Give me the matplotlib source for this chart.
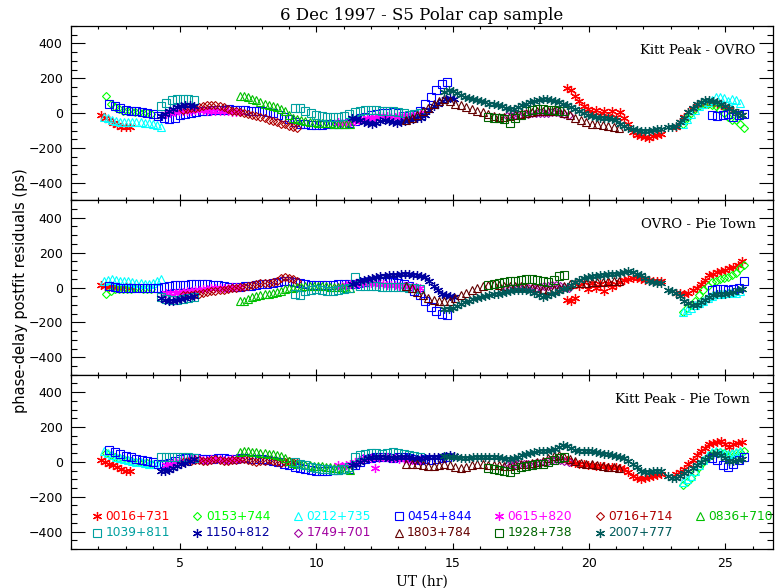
import numpy as np
import matplotlib
matplotlib.use("Agg")
import matplotlib.pyplot as plt

# sources, in legend order
names = ["0016+731", "0153+744", "0212+735", "0454+844", "0615+820", "0716+714", "0836+710",
         "1039+811", "1150+812", "1749+701", "1803+784", "1928+738", "2007+777"]
colors = ["#ff0000", "#00ff00", "#00ffff", "#0000ff", "#ff00ff", "#b00000", "#00c000",
          "#00a0a0", "#0000a0", "#a000a0", "#640000", "#006400", "#005a5a"]
markers = ["ast", "D", "^", "s"] * 3 + ["ast"]

baselines = ["Kitt Peak - OVRO", "OVRO - Pie Town", "Kitt Peak - Pie Town"]

# each scan block: (start UT, spacing in hr, KP-OVRO, OVRO-PT, KP-PT) residuals in ps
s0016 = [
    (2.1, 0.15,
     [-10, -25, -40, -55, -70, -78, -80, -80],
     [15, 10, 5, 10, 5, 0, 5, 5],
     [10, 0, -10, -20, -30, -40, -50, -55]),
    (19.2, 0.15,
     [145, 130, 100, 70, 40, 25, 0, 20, -10, 15, -15, 10, -20, 5, -25, -60, -110, -125, -130, -135, -140, -130, -125, -120],
     [-70, -80, -60, 10, 30, -10, 25, 0, 20, -20, 25, 5, 20, 30, 45, 50, 55, 55, 50, 45, 45, 40, 40, 40],
     [10, 0, -5, -10, -15, -20, -20, -25, -25, -25, -30, -30, -30, -35, -40, -60, -80, -95, -100, -95, -85, -80, -75, -70]),
    (23.2, 0.15,
     [-80, -50, -20, 5, 25, 40, 50, 55, 60, 60, 55, 45, 35, 25, 10, 0, -10],
     [-30, -30, -35, -30, -15, 0, 20, 45, 70, 80, 90, 95, 100, 110, 120, 130, 150],
     [-70, -60, -40, -15, 10, 40, 60, 80, 100, 110, 115, 120, 100, 85, 100, 110, 115]),
]
s0153 = [
    (2.3, 0.15,
     [100, 55, 35, 25, 15, 10, 10, 5, 5, 0, 0, -5],
     [-35, -20, -10, -10, -10, -10, -10, -5, -5, -10, -10, -10],
     [50, 40, 30, 20, 15, 10, 5, 0, 0, -5, -5, -10]),
    (23.45, 0.15,
     [-60, -30, 0, 25, 40, 50, 50, 45, 40, 20, 0, -20, -40, -40, -60, -85],
     [-140, -120, -100, -75, -45, -15, 10, 30, 40, 50, 55, 60, 70, 85, 110, 130],
     [-130, -115, -90, -60, -30, 0, 30, 50, 55, 55, 50, 40, 45, 50, 55, 60]),
]
s0212 = [
    (2.2, 0.15,
     [-20, -30, -40, -45, -50, -50, -50, -50, -50, -50, -55, -55, -60, -70, -80],
     [40, 45, 50, 45, 40, 40, 35, 30, 25, 25, 20, 20, 25, 40, 50],
     [60, 50, 40, 30, 20, 15, 10, 5, 0, 0, -5, -10, -10, -15, -15]),
    (23.45, 0.15,
     [-60, -35, -5, 20, 40, 55, 65, 75, 90, 95, 85, 70, 80, 75, 60],
     [-140, -130, -115, -100, -90, -75, -60, -50, -40, -35, -30, -30, -25, -30, -20],
     [-115, -100, -80, -50, -20, 10, 40, 55, 60, 55, 50, 45, 50, 55, 60]),
]
s0454 = [
    (2.4, 0.2,
     [50, 40, 30, 20, 15, 10, 5, 0, -5, -15, -30, -35, -25, -10, -5, 0, 5, 10, 15, 20,
      20, 20, 25, 20, 20, 20, 15, 15, 10, 5, 0, -10, -20, -35, -50, -60, -65, -70, -70, -70,
      -65, -65, -60, -60, -55, -45, -30, -20, -10, -5, 0, 0, 5, 0, -15, -30, -10, 15, 50, 90,
      130, 165, 180],
     [10, 5, 0, 0, -5, -5, -5, -5, -5, -5, 5, 10, 15, 15, 15, 20, 20, 20, 20, 15,
      15, 10, 5, 5, 5, 10, 10, 15, 20, 20, 25, 30, 35, 35, 30, 25, 20, 15, 15, 15,
      15, 15, 20, 20, 20, 20, 25, 30, 35, 35, 35, 30, 30, 25, 20, 10, -20, -45, -80, -110,
      -135, -150, -160],
     [70, 55, 45, 35, 25, 15, 10, 5, 0, -10, -15, -5, 5, 15, 20, 20, 20, 15, 15, 15,
      20, 20, 15, 15, 20, 20, 15, 15, 15, 10, 5, 0, -10, -20, -30, -35, -40, -45, -50, -50,
      -50, -45, -45, -40, -40, -20, 0, 15, 20, 25, 30, 25, 20, 25, 30, 20, 15, 10, 15, 10,
      15, 20, 25]),
    (24.5, 0.2,
     [-10, -15, -10, -5, -20, -10, -5],
     [-15, -10, -10, -15, -10, 0, 40],
     [20, 10, -20, -30, -10, 10, 25]),
]
s0615 = [
    (4.5, 0.15,
     [-5, 0, 5, 10, 10, 15, 15, 20, 20, 20, 15, 15, 15, 10, 10, 10, 5, 5, 5],
     [-30, -30, -30, -25, -25, -20, -20, -15, -15, -10, -10, -5, -5, 0, 0, 0, 5, 5, 5],
     [-20, -10, 0, 5, 10, 10, 15, 15, 15, 10, 10, 15, 15, 15, 10, 10, 15, 15, 15]),
    (10.8, 0.15,
     [-50, -55, -55, -50, -45, -40, -35, -30, -25, -20, -15, -15, -15, -20, -20, -15, -15, -10, -10, -5, 0],
     [5, 10, 15, 20, 20, 25, 25, 25, 25, 20, 20, 20, 15, 15, 15, 10, 10, 10, 5, 5, 0],
     [-20, -25, -20, -10, 0, 10, 20, 20, 20, -35, 20, 25, 25, 20, 20, 15, 15, 10, 10, 10, 10]),
]
s0716 = [
    (5.1, 0.15,
     [20, 25, 30, 30, 35, 40, 45, 45, 45, 40, 35, 25, 15, 10, 5, 0, -5, -10, -15, -20,
      -30, -40, -45, -50, -60, -65, -75, -80, -85],
     [-45, -45, -45, -40, -35, -30, -25, -20, -20, -15, -15, -10, -5, 0, 5, 5, 10, 15, 20, 25,
      25, 25, 30, 40, 55, 60, 55, 50, 35],
     [0, 5, 5, 10, 10, 5, 5, 10, 15, 10, 5, 5, 10, 10, 15, 15, 10, 5, 0, 5,
      5, 10, 5, 0, -5, 0, 5, 0, -5]),
]
s0836 = [
    (7.2, 0.15,
     [100, 100, 90, 80, 75, 65, 55, 45, 40, 35, 25, 10, -10, -25, -35, -40, -45, -50, -50, -55,
      -55, -55, -55, -60, -60, -60, -65, -65],
     [-80, -75, -65, -55, -50, -45, -40, -35, -30, -25, -20, -10, -5, 0, 5, 5, 10, 10, 10, 10,
      10, 10, 5, 5, 5, 5, 0, 0],
     [55, 60, 60, 55, 55, 50, 50, 45, 45, 40, 35, 20, 5, -5, -10, -15, -20, -20, -25, -25,
      -25, -30, -30, -35, -35, -40, -40, -45]),
]
s1039 = [
    (4.3, 0.2,
     [40, 60, 75, 80, 80, 80, 75],
     [-55, -65, -70, -70, -65, -60, -55],
     [30, 25, 25, 30, 30, 25, 20]),
    (9.2, 0.2,
     [30, 30, 10, 0, -10, -15, -20, -20, -20, -15, -5, 5, 15, 20, 20, 20, 15, 10, 10, 5, 0, -10, -5, 0],
     [-40, -45, -20, -15, -10, -15, -20, -20, -15, -10, 0, 60, 10, 10, 10, 10, 5, 5, 5, 5, 5, 0, -5, -10],
     [0, -10, -20, -30, -35, -40, -40, -45, -45, -40, -30, 30, 40, 45, 50, 50, 45, 50, 55, 50, 45, 40, 35, 30]),
]
s1150 = [
    (4.3, 0.15,
     [-15, -5, 10, 25, 35, 40, 45, 45, 40],
     [-60, -70, -75, -75, -70, -65, -60, -55, -50],
     [-55, -55, -45, -35, -25, -15, -5, 5, 15]),
    (11.3, 0.15,
     [-30, -35, -40, -50, -55, -60, -55, -45, -40, -45, -50, -55, -50, -45, -40, -35, -30, -25,
      -10, 20, 40, 55, 70, 80, 85, 80],
     [20, 25, 35, 45, 50, 55, 60, 65, 65, 70, 70, 70, 75, 75, 75, 70, 70, 65,
      60, 35, 10, -15, -35, -45, -50, -55],
     [-20, -10, 0, 10, 20, 25, 30, 30, 25, 20, 20, 25, 30, 30, 25, 20, 15, 20,
      20, 25, 25, 30, 30, 35, 40, 35]),
]
s1749 = [
    (17.0, 0.15,
     [-15, -15, -10, -10, -5, -5, 0, 0, 0, 0, 0, 5, 5, 0, -5, -10],
     [0, 0, 5, 5, 5, 0, 0, 0, 5, 10, 10, 15, 15, 10, 5, 0],
     [-20, -20, -15, -15, -15, -10, -10, -5, -5, 0, 5, 10, 15, 10, 5, 0]),
]
s1803 = [
    (13.3, 0.2,
     [-40, -30, -10, 10, 30, 50, 70, 80, 70, 55, 45, 35, 25, 15, 5, -5, -15, -20, -20, -15,
      -10, -5, 0, 5, 10, 15, 15, 15, 10, 0, -10, -25, -40, -50, -60, -65, -70, -75, -80, -85],
     [10, -5, -25, -45, -60, -70, -75, -80, -75, -60, -45, -30, -15, 0, 10, 15, 20, 15, 10, 10,
      10, 10, 5, 0, -5, -10, -15, -10, 0, 10, 20, 25, 25, 25, 30, 30, 30, 35, 35, 40],
     [-10, -15, -15, -20, -25, -25, -20, -15, -20, -30, -35, -30, -20, -15, -15, -20, -20, -20, -25, -25,
      -20, -15, -10, -5, 0, 5, 20, 35, 40, 30, 15, 5, -5, -10, -15, -20, -25, -30, -30, -35]),
]
s1928 = [
    (16.3, 0.2,
     [-20, -25, -30, -35, -55, -30, -10, 10, 20, 25, 25, 20, 20, 15, 10],
     [15, 20, 25, 30, 35, 40, 45, 50, 50, 45, 35, 30, 45, 65, 70],
     [-35, -40, -45, -55, -60, -40, -30, -25, -20, -15, -10, 0, 10, 20, 25]),
]
s2007 = [
    (14.7, 0.15,
     [120, 135, 125, 115, 105, 95, 85, 80, 75, 70, 65, 55, 50, 45, 40, 30, 25, 25, 35, 45,
      55, 65, 70, 75, 80, 80, 75, 70, 65, 55, 45, 35, 25, 10, 0, -10, -15, -20, -25, -30,
      -30, -35, -40, -60, -75, -85, -90, -95, -100, -100, -100, -95, -90, -90],
     [-125, -125, -115, -105, -95, -85, -75, -65, -60, -55, -50, -45, -40, -35, -30, -25, -20, -15, -15, -15,
      -15, -20, -30, -45, -55, -50, -40, -30, -20, -10, 0, 15, 30, 45, 55, 60, 65, 65, 70, 70,
      75, 75, 80, 85, 90, 95, 90, 80, 70, 55, 40, 30, 25, 25],
     [35, 30, 25, 25, 20, 20, 20, 25, 25, 25, 30, 30, 30, 25, 20, 15, 15, 20, 30, 40,
      45, 50, 55, 60, 60, 65, 70, 75, 85, 95, 90, 80, 70, 65, 60, 60, 60, 55, 50, 45,
      45, 40, 35, 30, 20, 5, -10, -30, -50, -60, -60, -55, -55, -55]),
    (22.9, 0.15,
     [-80, -80, -75, -50, -25, 5, 30, 50, 65, 75, 75, 70, 65, 55, 40, 30, 15, 0, -10],
     [-15, -20, -30, -50, -75, -90, -100, -100, -85, -70, -55, -45, -40, -35, -35, -30, -25, -15, -10],
     [-80, -90, -90, -80, -65, -50, -35, -20, 0, 15, 30, 45, 50, 40, 20, 5, 5, 10, 15]),
]
blocks = [s0016, s0153, s0212, s0454, s0615, s0716, s0836,
          s1039, s1150, s1749, s1803, s1928, s2007]

ast = (6, 2, 0)
mstyle = {"ast": dict(marker=ast, ms=6.5, mew=0.9),
          "D": dict(marker="D", ms=4.3, mew=0.8),
          "^": dict(marker="^", ms=5.5, mew=0.8),
          "s": dict(marker="s", ms=5.6, mew=0.8)}

fig, axes = plt.subplots(3, 1, figsize=(7.75, 5.88), dpi=100, sharex=True,
                         gridspec_kw=dict(hspace=0))
fig.subplots_adjust(left=0.0916, right=0.9974, bottom=0.0663, top=0.9558)

for k, ax in enumerate(axes):
    for src, col, mk in zip(blocks, colors, markers):
        for t0, step, *vals in src:
            v = np.array(vals[k])
            t = t0 + step * np.arange(len(v))
            ax.plot(t, v, ls="none", mfc="none", mec=col, **mstyle[mk])

    ax.set_xlim(1, 26.75)
    ax.set_ylim(-500, 500)
    ax.set_yticks([-400, -200, 0, 200, 400])
    ax.set_yticks(np.arange(-500, 501, 50), minor=True)
    ax.set_xticks([5, 10, 15, 20, 25])
    ax.set_xticks(np.arange(1, 27), minor=True)
    ax.tick_params(axis="y", which="major", direction="in", length=10, width=0.8,
                   left=True, right=True, labelsize=9, pad=6)
    ax.tick_params(axis="y", which="minor", direction="in", length=4.5, width=0.8,
                   left=True, right=True)
    ax.tick_params(axis="x", which="major", direction="in", length=4, width=0.8,
                   top=True, bottom=True, labelsize=9, pad=6)
    ax.tick_params(axis="x", which="minor", direction="in", length=2, width=0.8,
                   top=True, bottom=True)
    for sp in ax.spines.values():
        sp.set_linewidth(0.9)
    ax.text(0.975 if k < 2 else 0.967, 0.86, baselines[k], transform=ax.transAxes,
            ha="right", va="center", fontsize=9.5, family="DejaVu Serif")

axes[0].set_title("6 Dec 1997 - S5 Polar cap sample", fontsize=12,
                  family="DejaVu Serif", pad=4)
axes[2].set_xlabel("UT (hr)", fontsize=10, family="DejaVu Serif", labelpad=3)
fig.text(0.027, 0.505, "phase-delay postfit residuals (ps)", rotation=90,
         ha="center", va="center", fontsize=10.5)

# key drawn inside the bottom panel, 7 entries per row
ax = axes[2]
leg_x0, leg_dx = 0.037, 0.1432
leg_rows = [0.189, 0.092]
for i, (name, col, mk) in enumerate(zip(names, colors, markers)):
    x = leg_x0 + leg_dx * (i % 7)
    y = leg_rows[i // 7]
    ax.plot([x], [y], ls="none", mfc="none", mec=col, transform=ax.transAxes,
            clip_on=False, **mstyle[mk])
    ax.text(x + 0.012, y, name, color=col, transform=ax.transAxes,
            ha="left", va="center", fontsize=8.8)

fig.savefig("out.png", dpi=100)
